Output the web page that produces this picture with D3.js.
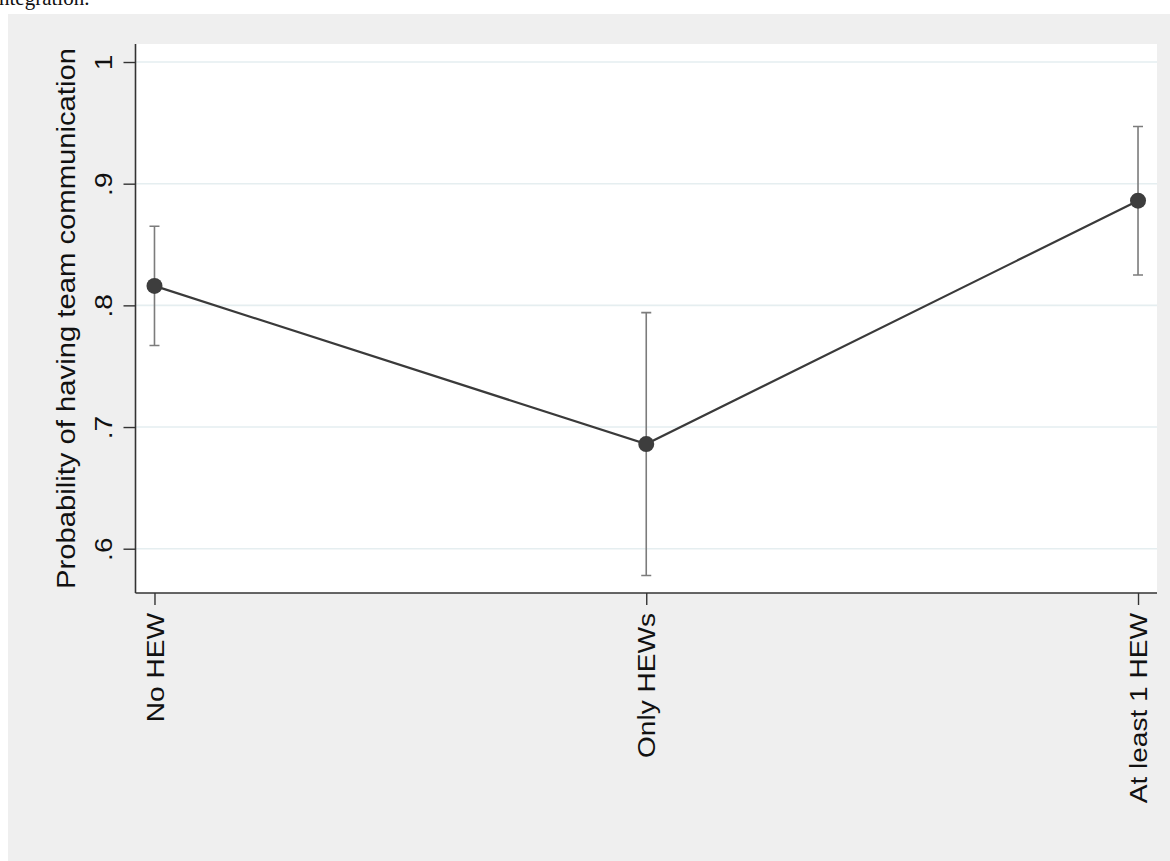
<!DOCTYPE html>
<html>
<head>
<meta charset="utf-8">
<script src="https://cdn.jsdelivr.net/npm/d3@7"></script>
<style>
  html, body { margin: 0; padding: 0; background: #ffffff; }
  svg { display: block; }
</style>
</head>
<body>
<script>
// ---- data ----
const categories = ["No HEW", "Only HEWs", "At least 1 HEW"];
const estimates  = [0.816, 0.686, 0.886];
const lowerCI    = [0.767, 0.578, 0.825];
const upperCI    = [0.865, 0.794, 0.947];
const yTickValues = [0.6, 0.7, 0.8, 0.9, 1.0];
const yTickLabels = [".6", ".7", ".8", ".9", "1"];
const yTitle = "Probability of having team communication";
const topCaption = "ntegration.";

// ---- layout ----
const W = 1170, H = 861;
const plot = { left: 135.5, right: 1157, top: 44, bottom: 593 };
const stretch = 1.17;
const font = "'Liberation Sans', Arial, Helvetica, sans-serif";

const svg = d3.select("body").append("svg").attr("width", W).attr("height", H);

svg.append("rect").attr("x", 0).attr("y", 0).attr("width", W).attr("height", H).attr("fill", "#ffffff");
svg.append("text").attr("x", -1).attr("y", 5)
  .attr("font-family", "'Liberation Serif', 'Times New Roman', serif")
  .attr("font-size", 21).attr("fill", "#111").text(topCaption);

svg.append("rect").attr("x", 8).attr("y", 14).attr("width", W - 8).attr("height", H - 14).attr("fill", "#efefef");
svg.append("rect").attr("x", plot.left).attr("y", plot.top)
  .attr("width", plot.right - plot.left).attr("height", plot.bottom - plot.top).attr("fill", "#ffffff");

const y = d3.scaleLinear().domain([0.5636, 1.0148]).range([plot.bottom, plot.top]);
const x = d3.scalePoint().domain(categories).range([plot.left, plot.right]).padding(0.0386);

// grid
svg.append("g").selectAll("line").data(yTickValues).join("line")
  .attr("x1", plot.left).attr("x2", plot.right)
  .attr("y1", d => y(d)).attr("y2", d => y(d))
  .attr("stroke", "#e5eef0").attr("stroke-width", 1.6);

// y axis
const yAxis = d3.axisLeft(y).tickValues(yTickValues).tickSize(12).tickFormat((d, i) => yTickLabels[i]);
const gy = svg.append("g").attr("transform", `translate(${plot.left},0)`).call(yAxis);
gy.select(".domain").attr("d", `M0,${plot.top}V${plot.bottom}`).attr("stroke", "#333").attr("stroke-width", 1.6);
gy.selectAll(".tick line").attr("stroke", "#333").attr("stroke-width", 1.4);
gy.selectAll(".tick text")
  .attr("x", null).attr("dy", null)
  .attr("text-anchor", "middle")
  .attr("transform", `translate(${112 - plot.left},0) rotate(-90) scale(${stretch},1)`)
  .attr("font-family", font).attr("font-size", 24).attr("fill", "#111");

// x axis
const xAxis = d3.axisBottom(x).tickSize(12);
const gx = svg.append("g").attr("transform", `translate(0,${plot.bottom})`).call(xAxis);
gx.select(".domain").attr("d", `M${plot.left},0H${plot.right}`).attr("stroke", "#333").attr("stroke-width", 1.6);
gx.selectAll(".tick line").attr("stroke", "#333").attr("stroke-width", 1.4);
gx.selectAll(".tick text")
  .attr("y", null).attr("dy", null)
  .attr("text-anchor", "end")
  .attr("transform", `translate(8.6,20) rotate(-90) scale(${stretch},1)`)
  .attr("font-family", font).attr("font-size", 24).attr("fill", "#111");

// y title
svg.append("text")
  .attr("transform", `translate(75,${(plot.top + plot.bottom) / 2}) rotate(-90) scale(${stretch},1)`)
  .attr("text-anchor", "middle")
  .attr("font-family", font).attr("font-size", 25).attr("fill", "#111")
  .text(yTitle);

const rows = categories.map((c, i) => ({ c, est: estimates[i], lo: lowerCI[i], hi: upperCI[i] }));

// error bars
const eb = svg.append("g").attr("stroke", "#7c7c7c").attr("stroke-width", 1.6).attr("fill", "none");
eb.selectAll("path").data(rows).join("path")
  .attr("d", d => {
    const cx = x(d.c), yl = y(d.lo), yh = y(d.hi);
    return `M${cx},${yl}V${yh}M${cx - 5},${yh}H${cx + 5}M${cx - 5},${yl}H${cx + 5}`;
  });

// connecting line
svg.append("path").datum(rows)
  .attr("d", d3.line().x(d => x(d.c)).y(d => y(d.est)))
  .attr("fill", "none").attr("stroke", "#3a3a3a").attr("stroke-width", 2.2);

// markers
svg.append("g").selectAll("circle").data(rows).join("circle")
  .attr("cx", d => x(d.c)).attr("cy", d => y(d.est)).attr("r", 8)
  .attr("fill", "#3d3d3d");
</script>
</body>
</html>
